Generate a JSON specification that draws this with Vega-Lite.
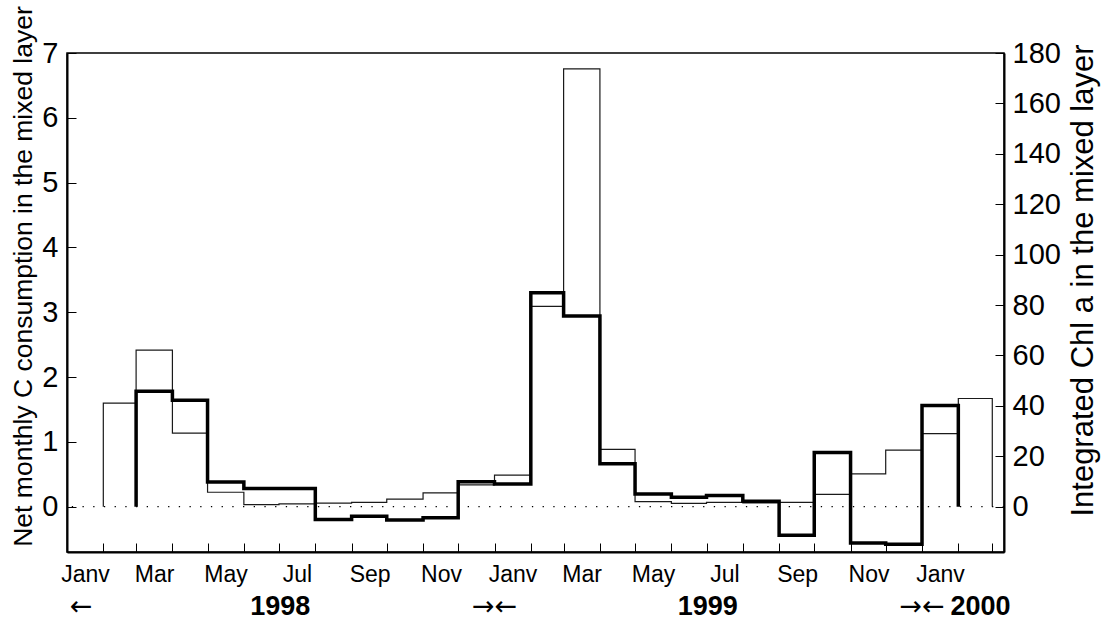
{
  "$schema": "https://vega.github.io/schema/vega-lite/v6.json",
  "width": 937,
  "height": 499,
  "autosize": {"type": "none"},
  "padding": {"left": 67, "top": 53, "right": 103, "bottom": 78},
  "background": "white",
  "config": {
    "view": {"stroke": "black", "strokeWidth": 1.5},
    "font": "Liberation Sans",
    "axis": {
      "grid": false,
      "domainColor": "black",
      "domainWidth": 2,
      "tickColor": "black",
      "tickWidth": 1,
      "labelColor": "black",
      "titleColor": "black",
      "labelFont": "Liberation Sans",
      "titleFont": "Liberation Sans",
      "titleFontWeight": "normal"
    }
  },
  "datasets": {
    "chl": [
      {"i": 0, "date": "1998-02-01", "v": 0},
      {"i": 1, "date": "1998-02-01", "v": 41.1},
      {"i": 2, "date": "1998-03-01", "v": 62.1},
      {"i": 3, "date": "1998-04-01", "v": 29.2},
      {"i": 4, "date": "1998-05-01", "v": 5.7},
      {"i": 5, "date": "1998-06-01", "v": 0.8},
      {"i": 6, "date": "1998-07-01", "v": 1.1},
      {"i": 7, "date": "1998-08-01", "v": 1.4},
      {"i": 8, "date": "1998-09-01", "v": 1.7},
      {"i": 9, "date": "1998-10-01", "v": 3.0},
      {"i": 10, "date": "1998-11-01", "v": 5.5},
      {"i": 11, "date": "1998-12-01", "v": 8.6},
      {"i": 12, "date": "1999-01-01", "v": 12.5},
      {"i": 13, "date": "1999-02-01", "v": 79.5},
      {"i": 14, "date": "1999-03-01", "v": 173.7},
      {"i": 15, "date": "1999-04-01", "v": 22.7},
      {"i": 16, "date": "1999-05-01", "v": 2.0},
      {"i": 17, "date": "1999-06-01", "v": 1.3},
      {"i": 18, "date": "1999-07-01", "v": 1.7},
      {"i": 19, "date": "1999-08-01", "v": 1.5},
      {"i": 20, "date": "1999-09-01", "v": 1.7},
      {"i": 21, "date": "1999-10-01", "v": 4.9},
      {"i": 22, "date": "1999-11-01", "v": 13.0},
      {"i": 23, "date": "1999-12-01", "v": 22.4},
      {"i": 24, "date": "2000-01-01", "v": 29.0},
      {"i": 25, "date": "2000-02-01", "v": 42.9},
      {"i": 26, "date": "2000-03-01", "v": 0}
    ],
    "cons": [
      {"i": 0, "date": "1998-03-01", "v": 0},
      {"i": 1, "date": "1998-03-01", "v": 1.78},
      {"i": 2, "date": "1998-04-01", "v": 1.64},
      {"i": 3, "date": "1998-05-01", "v": 0.38},
      {"i": 4, "date": "1998-06-01", "v": 0.28},
      {"i": 5, "date": "1998-07-01", "v": 0.28},
      {"i": 6, "date": "1998-08-01", "v": -0.2},
      {"i": 7, "date": "1998-09-01", "v": -0.15},
      {"i": 8, "date": "1998-10-01", "v": -0.205},
      {"i": 9, "date": "1998-11-01", "v": -0.17},
      {"i": 10, "date": "1998-12-01", "v": 0.385},
      {"i": 11, "date": "1999-01-01", "v": 0.35},
      {"i": 12, "date": "1999-02-01", "v": 3.3},
      {"i": 13, "date": "1999-03-01", "v": 2.94},
      {"i": 14, "date": "1999-04-01", "v": 0.66},
      {"i": 15, "date": "1999-05-01", "v": 0.195},
      {"i": 16, "date": "1999-06-01", "v": 0.145},
      {"i": 17, "date": "1999-07-01", "v": 0.17},
      {"i": 18, "date": "1999-08-01", "v": 0.085},
      {"i": 19, "date": "1999-09-01", "v": -0.44},
      {"i": 20, "date": "1999-10-01", "v": 0.835},
      {"i": 21, "date": "1999-11-01", "v": -0.56},
      {"i": 22, "date": "1999-12-01", "v": -0.58},
      {"i": 23, "date": "2000-01-01", "v": 1.56},
      {"i": 24, "date": "2000-02-01", "v": 0}
    ],
    "arrows": [
      {"date": "1998-01-13", "t": "←"},
      {"date": "1999-01-01", "t": "→←"},
      {"date": "2000-01-01", "t": "→←"}
    ],
    "years": [
      {"date": "1998-07-02", "t": "1998"},
      {"date": "1999-07-02", "t": "1999"},
      {"date": "2000-02-20", "t": "2000"}
    ]
  },
  "layer": [
    {
      "data": {"name": "chl"},
      "mark": {"type": "line", "interpolate": "step-after", "stroke": "#1a1a1a", "strokeWidth": 1.2, "strokeJoin": "miter"},
      "encoding": {
        "x": {
          "field": "date", "type": "temporal", "title": null,
          "scale": {"type": "utc", "domain": [{"year": 1998, "month": 1, "date": 1, "utc": true}, {"year": 2000, "month": 3, "date": 11, "utc": true}]},
          "axis": {
            "orient": "bottom",
            "tickCount": {"interval": "month", "step": 1},
            "tickSize": -9,
            "labelPadding": 20,
            "labelOffset": 18,
            "labelFontSize": 23,
            "labelOverlap": false,
            "labelBound": false,
            "labelFlush": false,
            "labelExpr": "(utcyear(datum.value) == 2000 && utcmonth(datum.value) > 0) ? '' : (utcmonth(datum.value) % 2 == 0 ? (utcmonth(datum.value) == 0 ? 'Janv' : utcFormat(datum.value, '%b')) : '')"
          }
        },
        "y": {
          "field": "v", "type": "quantitative",
          "scale": {"domain": [-18, 180], "nice": false, "zero": false},
          "axis": {
            "orient": "right",
            "values": [0, 20, 40, 60, 80, 100, 120, 140, 160, 180],
            "tickSize": -9,
            "labelPadding": 17,
            "labelFontSize": 29,
            "title": "Integrated Chl a in the mixed layer",
            "titleFontSize": 31,
            "titleAngle": 270,
            "titleBaseline": "top",
            "titlePadding": 8,
            "titleY": 227
          }
        },
        "order": {"field": "i", "type": "quantitative"}
      }
    },
    {
      "data": {"name": "cons"},
      "mark": {"type": "line", "interpolate": "step-after", "stroke": "black", "strokeWidth": 3.5, "strokeJoin": "miter"},
      "encoding": {
        "x": {"field": "date", "type": "temporal", "title": null},
        "y": {
          "field": "v", "type": "quantitative",
          "scale": {"domain": [-0.7, 7], "nice": false, "zero": false},
          "axis": {
            "orient": "left",
            "values": [0, 1, 2, 3, 4, 5, 6, 7],
            "tickSize": -9,
            "labelPadding": 18,
            "labelFontSize": 29,
            "title": "Net monthly C consumption in the mixed layer",
            "titleFontSize": 26.5,
            "titlePadding": 4,
            "titleY": 223
          }
        },
        "order": {"field": "i", "type": "quantitative"}
      }
    },
    {
      "data": {"values": [{}]},
      "mark": {"type": "rule", "stroke": "black", "strokeWidth": 1.3, "strokeDash": [1.3, 9.4]},
      "encoding": {
        "y": {"datum": 0, "type": "quantitative", "scale": {"domain": [-0.7, 7], "nice": false, "zero": false}, "axis": null}
      }
    },
    {
      "data": {"name": "arrows"},
      "mark": {"type": "text", "fontSize": 27, "font": "DejaVu Sans", "baseline": "middle", "align": "center", "color": "black"},
      "encoding": {
        "x": {"field": "date", "type": "temporal", "title": null},
        "y": {"datum": -1.55, "type": "quantitative", "scale": {"domain": [-0.7, 7], "nice": false, "zero": false}, "axis": null},
        "text": {"field": "t"}
      }
    },
    {
      "data": {"name": "years"},
      "mark": {"type": "text", "fontSize": 27, "font": "Liberation Sans", "fontWeight": "bold", "baseline": "middle", "align": "center", "color": "black"},
      "encoding": {
        "x": {"field": "date", "type": "temporal", "title": null},
        "y": {"datum": -1.55, "type": "quantitative", "scale": {"domain": [-0.7, 7], "nice": false, "zero": false}, "axis": null},
        "text": {"field": "t"}
      }
    }
  ],
  "resolve": {"scale": {"y": "independent"}}
}
